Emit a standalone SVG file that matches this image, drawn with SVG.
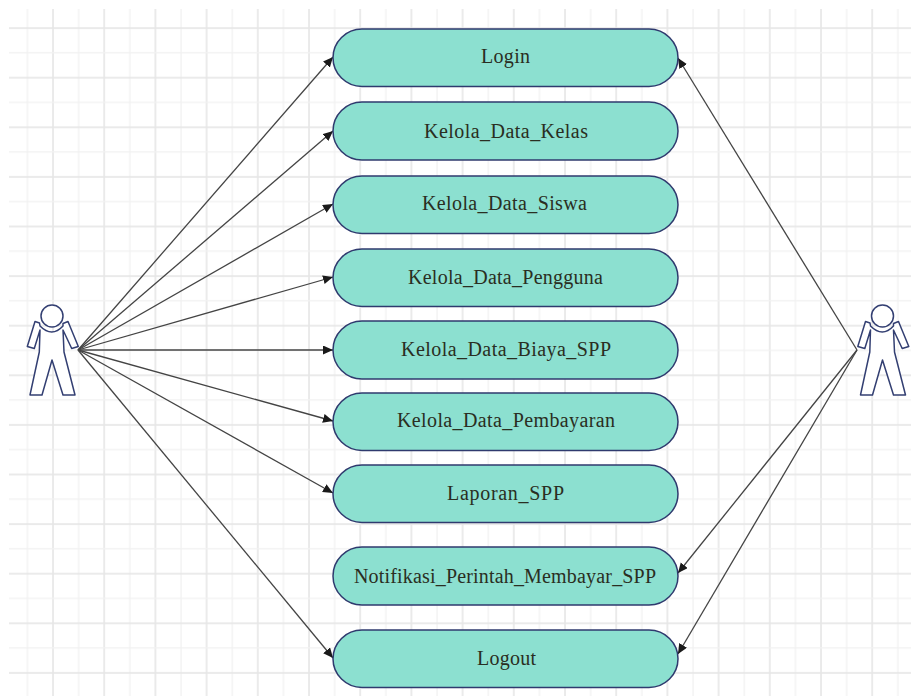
<svg xmlns="http://www.w3.org/2000/svg" width="911" height="697" viewBox="0 0 911 697">
<style>
.uc{fill:#8ce0d0;stroke:#2f3a6e;stroke-width:1.5}
.lb{font-family:"Liberation Serif","Times New Roman",serif;font-size:20px;fill:#2a2e22;text-anchor:middle}
.ac{fill:#fff;stroke:#333f72;stroke-width:1.5;stroke-linejoin:round}
.cn{stroke:#444;stroke-width:1.3;fill:none;marker-end:url(#ah)}
</style>
<defs>
<marker id="ah" markerUnits="userSpaceOnUse" markerWidth="12" markerHeight="12" refX="10" refY="4.5" orient="auto"><path d="M0 0L10 4.5L0 9Z" fill="#1a1a1a"/></marker>
<pattern id="grid" patternUnits="userSpaceOnUse" x="0.8" y="-22.5" width="51.2" height="49.6">
<rect x="0.2" y="0" width="1.6" height="49.6" fill="#e6e6e6"/>
<rect x="26" y="0" width="1.3" height="49.6" fill="#f1f1f1"/>
<rect x="0" y="0.2" width="51.2" height="1.6" fill="#e6e6e6"/>
<rect x="0" y="25" width="51.2" height="1.3" fill="#f1f1f1"/>
</pattern>
<g id="fig">
<circle cx="52" cy="316" r="11"/>
<path d="M35 321.5L27.3 346.5L34.3 348.5L40 330L39.3 352L30 395L42 395L52 360L63 395L75 395L64 352L63 330L71.7 348.5L78.3 346.5L68 321.5L63 323.5L63 326Q52 338 40 326L39.5 323Z"/>
</g>
</defs>
<rect width="911" height="697" fill="#fff"/>
<rect x="9" y="9" width="902" height="687" fill="url(#grid)"/>
<g id="connectors">
<line class="cn" x1="78" y1="350" x2="333" y2="57"/>
<line class="cn" x1="78" y1="350" x2="333" y2="131"/>
<line class="cn" x1="78" y1="350" x2="333" y2="204"/>
<line class="cn" x1="78" y1="350" x2="333" y2="277"/>
<line class="cn" x1="78" y1="350" x2="333" y2="350"/>
<line class="cn" x1="78" y1="350" x2="333" y2="421"/>
<line class="cn" x1="78" y1="350" x2="333" y2="493"/>
<line class="cn" x1="78" y1="350" x2="333" y2="658"/>
<line class="cn" x1="857" y1="350" x2="678" y2="58"/>
<line class="cn" x1="857" y1="350" x2="678" y2="573"/>
<line class="cn" x1="857" y1="350" x2="678" y2="654"/>
</g>
<g id="actor-left" class="ac"><use href="#fig"/></g>
<g id="actor-right" class="ac"><use href="#fig" x="830.5"/></g>
<g id="uc-login"><rect class="uc" x="333" y="29" width="345" height="57.5" rx="29"/><text class="lb" x="505.5" y="63" textLength="49">Login</text></g>
<g id="uc-kelas"><rect class="uc" x="333" y="102" width="345" height="58" rx="29"/><text class="lb" x="506" y="138" textLength="164">Kelola_Data_Kelas</text></g>
<g id="uc-siswa"><rect class="uc" x="333" y="176" width="345" height="57.5" rx="29"/><text class="lb" x="504.5" y="210" textLength="165">Kelola_Data_Siswa</text></g>
<g id="uc-pengguna"><rect class="uc" x="333" y="249" width="345" height="57.5" rx="29"/><text class="lb" x="505.5" y="284" textLength="195">Kelola_Data_Pengguna</text></g>
<g id="uc-biaya"><rect class="uc" x="333" y="321" width="345" height="58" rx="29"/><text class="lb" x="506" y="356" textLength="210">Kelola_Data_Biaya_SPP</text></g>
<g id="uc-pembayaran"><rect class="uc" x="333" y="393" width="345" height="57.5" rx="29"/><text class="lb" x="506" y="427" textLength="218">Kelola_Data_Pembayaran</text></g>
<g id="uc-laporan"><rect class="uc" x="333" y="465" width="345" height="57.5" rx="29"/><text class="lb" x="505.5" y="500" textLength="117">Laporan_SPP</text></g>
<g id="uc-notifikasi"><rect class="uc" x="333" y="547" width="345" height="58" rx="29"/><text class="lb" x="505" y="583" textLength="302">Notifikasi_Perintah_Membayar_SPP</text></g>
<g id="uc-logout"><rect class="uc" x="333" y="630" width="345" height="57.5" rx="29"/><text class="lb" x="506.5" y="665" textLength="59">Logout</text></g>
</svg>
